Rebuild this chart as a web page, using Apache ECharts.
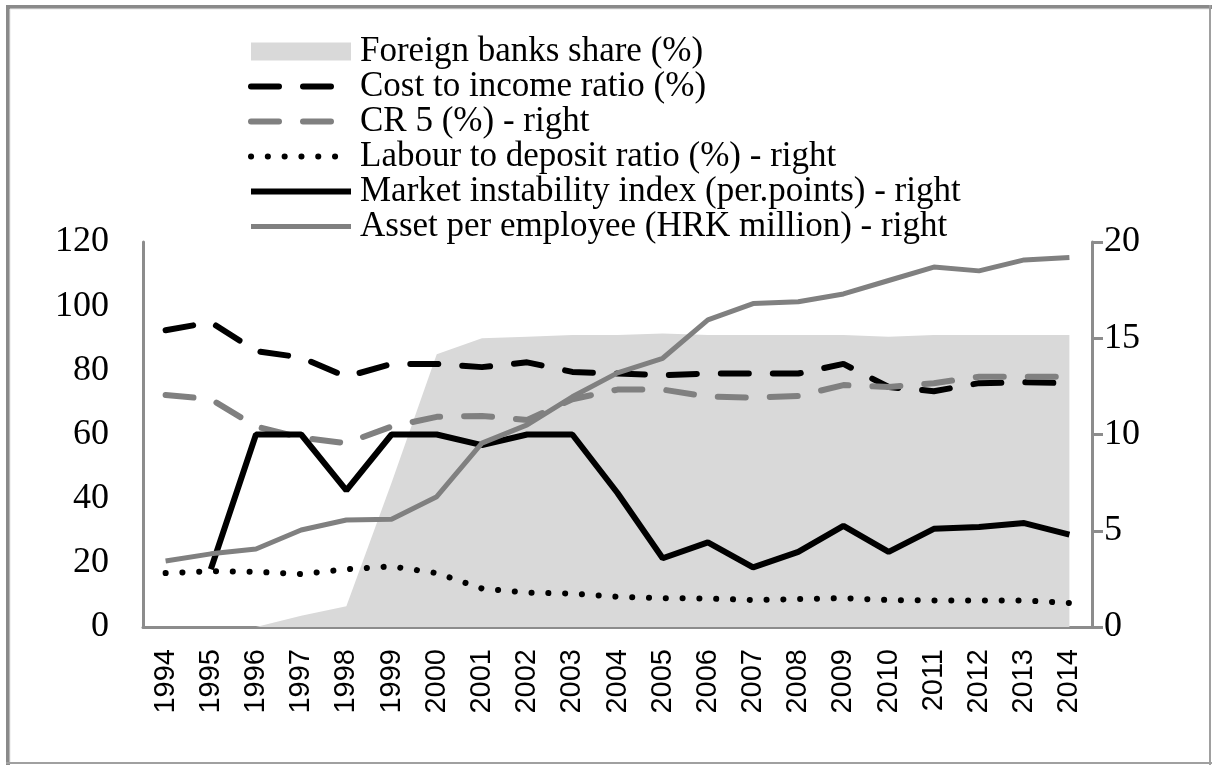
<!DOCTYPE html>
<html>
<head>
<meta charset="utf-8">
<script src="https://cdn.jsdelivr.net/npm/echarts@6/dist/echarts.min.js"></script>
<style>
  html, body { margin: 0; padding: 0; background: #fff; }
  #chart { width: 1212px; height: 765px; }
</style>
</head>
<body>
<div id="chart"></div>
<script>
// data
const years = ['1994', '1995', '1996', '1997', '1998', '1999', '2000', '2001', '2002', '2003', '2004',
  '2005', '2006', '2007', '2008', '2009', '2010', '2011', '2012', '2013', '2014']
const foreignShare = [0, 0, 0, 3.5, 6.5, 45, 85, 90, 90.5, 91, 91, 91.5, 91, 91, 91, 91, 90.5, 91, 91, 91, 91]
const costIncome = [92.5, 95, 86, 84, 78, 82, 82, 81, 82.5, 79.5, 79, 78.5, 79, 79, 79, 82, 74.8, 73.5, 76, 76.3, 76]
const cr5 = [72.3, 71, 62.5, 59, 57.3, 62.5, 65.5, 65.8, 64.5, 71, 74, 74, 71.8, 71.5, 72, 75.4, 74.8, 76, 78, 78, 78]
const labourDeposit = [2.8, 2.9, 2.87, 2.75, 3.0, 3.15, 2.8, 2.0, 1.78, 1.74, 1.57, 1.5, 1.48, 1.4, 1.45, 1.5, 1.4, 1.38, 1.38, 1.38, 1.25]
const marketInstability = [null, 3.0, 10, 10, 7.1, 10, 10, 9.45, 10, 10, 6.96, 3.57, 4.4, 3.1, 3.9, 5.25, 3.9, 5.1, 5.2, 5.4, 4.8]
const assetPerEmployee = [3.43, 3.8, 4.05, 5.04, 5.56, 5.6, 6.77, 9.55, 10.5, 11.96, 13.2, 13.96, 15.95, 16.8, 16.9, 17.3, 18.0, 18.7, 18.5, 19.07, 19.2]
const leftTicks = { min: 0, max: 120, interval: 20 }
const rightTicks = { min: 0, max: 20, interval: 5 }

const serif = 'Liberation Serif'
const axisGray = '#8c8c8c'

const chart = echarts.init(document.getElementById('chart'))

chart.setOption({
  animation: false,
  backgroundColor: '#fff',
  graphic: [
    // picture frame
    { type: 'rect', shape: { x: 6, y: 5, width: 4, height: 760 }, style: { fill: '#8a8a8a' } },
    { type: 'rect', shape: { x: 6, y: 5, width: 1206, height: 4 }, style: { fill: '#8a8a8a' } },
    { type: 'rect', shape: { x: 10, y: 9, width: 1200, height: 754 }, style: { fill: 'none', stroke: '#e6e6e6', lineWidth: 1 } },
    { type: 'rect', shape: { x: 1209, y: 5, width: 2, height: 760 }, style: { fill: '#a0a0a0' } },
    { type: 'rect', shape: { x: 6, y: 762, width: 1206, height: 2 }, style: { fill: '#a0a0a0' } }
  ],
  legend: {
    orient: 'vertical',
    left: 243,
    top: 29,
    itemWidth: 100,
    itemHeight: 18,
    itemGap: 0,
    itemStyle: { opacity: 0 },
    lineStyle: { width: 'inherit' },
    textStyle: { fontFamily: serif, fontSize: 35, color: '#000', lineHeight: 35, padding: [0, 0, 0, 4] },
    data: [
      { name: 'Foreign banks share (%)', icon: 'rect', itemStyle: { opacity: 1, color: '#d9d9d9' } },
      'Cost to income ratio (%)',
      'CR 5 (%) - right',
      'Labour to deposit ratio (%) - right',
      'Market instability index (per.points) - right',
      'Asset per employee (HRK million) - right'
    ]
  },
  grid: { left: 143, right: 120, top: 242, bottom: 138 },
  xAxis: {
    type: 'category',
    data: years,
    boundaryGap: true,
    axisLine: { lineStyle: { color: axisGray, width: 3 } },
    axisTick: { show: false },
    axisLabel: { rotate: 90, interval: 0, margin: 22, fontFamily: 'Liberation Sans', fontSize: 29, color: '#000' }
  },
  yAxis: [
    {
      type: 'value',
      min: leftTicks.min,
      max: leftTicks.max,
      interval: leftTicks.interval,
      splitLine: { show: false },
      axisLine: { show: true, lineStyle: { color: axisGray, width: 3 } },
      axisTick: { show: false },
      axisLabel: { margin: 34, fontFamily: serif, fontSize: 36, color: '#000' }
    },
    {
      type: 'value',
      position: 'right',
      min: rightTicks.min,
      max: rightTicks.max,
      interval: rightTicks.interval,
      splitLine: { show: false },
      axisLine: { show: true, lineStyle: { color: axisGray, width: 3 } },
      axisTick: { show: true, length: 11, lineStyle: { color: axisGray, width: 3 } },
      axisLabel: { margin: 12, fontFamily: serif, fontSize: 36, color: '#000' }
    }
  ],
  series: [
    {
      name: 'Foreign banks share (%)',
      type: 'line',
      yAxisIndex: 0,
      data: foreignShare,
      symbol: 'none',
      color: '#d9d9d9',
      lineStyle: { width: 0 },
      areaStyle: { color: '#d9d9d9', opacity: 1 },
      z: 1
    },
    {
      name: 'Cost to income ratio (%)',
      type: 'line',
      yAxisIndex: 0,
      data: costIncome,
      symbol: 'none',
      color: '#000',
      lineStyle: { color: '#000', width: 6, type: [28, 24], cap: 'round' },
      z: 2
    },
    {
      name: 'CR 5 (%) - right',
      type: 'line',
      yAxisIndex: 0,
      data: cr5,
      symbol: 'none',
      color: '#808080',
      lineStyle: { color: '#808080', width: 6, type: [28, 24], cap: 'round' },
      z: 3
    },
    {
      name: 'Labour to deposit ratio (%) - right',
      type: 'line',
      yAxisIndex: 1,
      data: labourDeposit,
      symbol: 'none',
      color: '#000',
      lineStyle: { color: '#000', width: 6, type: [0.1, 16.7], cap: 'round' },
      z: 4
    },
    {
      name: 'Market instability index (per.points) - right',
      type: 'line',
      yAxisIndex: 1,
      data: marketInstability,
      symbol: 'none',
      color: '#000',
      lineStyle: { color: '#000', width: 6 },
      z: 5
    },
    {
      name: 'Asset per employee (HRK million) - right',
      type: 'line',
      yAxisIndex: 1,
      data: assetPerEmployee,
      symbol: 'none',
      color: '#808080',
      lineStyle: { color: '#808080', width: 5 },
      z: 6
    }
  ]
})
</script>
</body>
</html>
